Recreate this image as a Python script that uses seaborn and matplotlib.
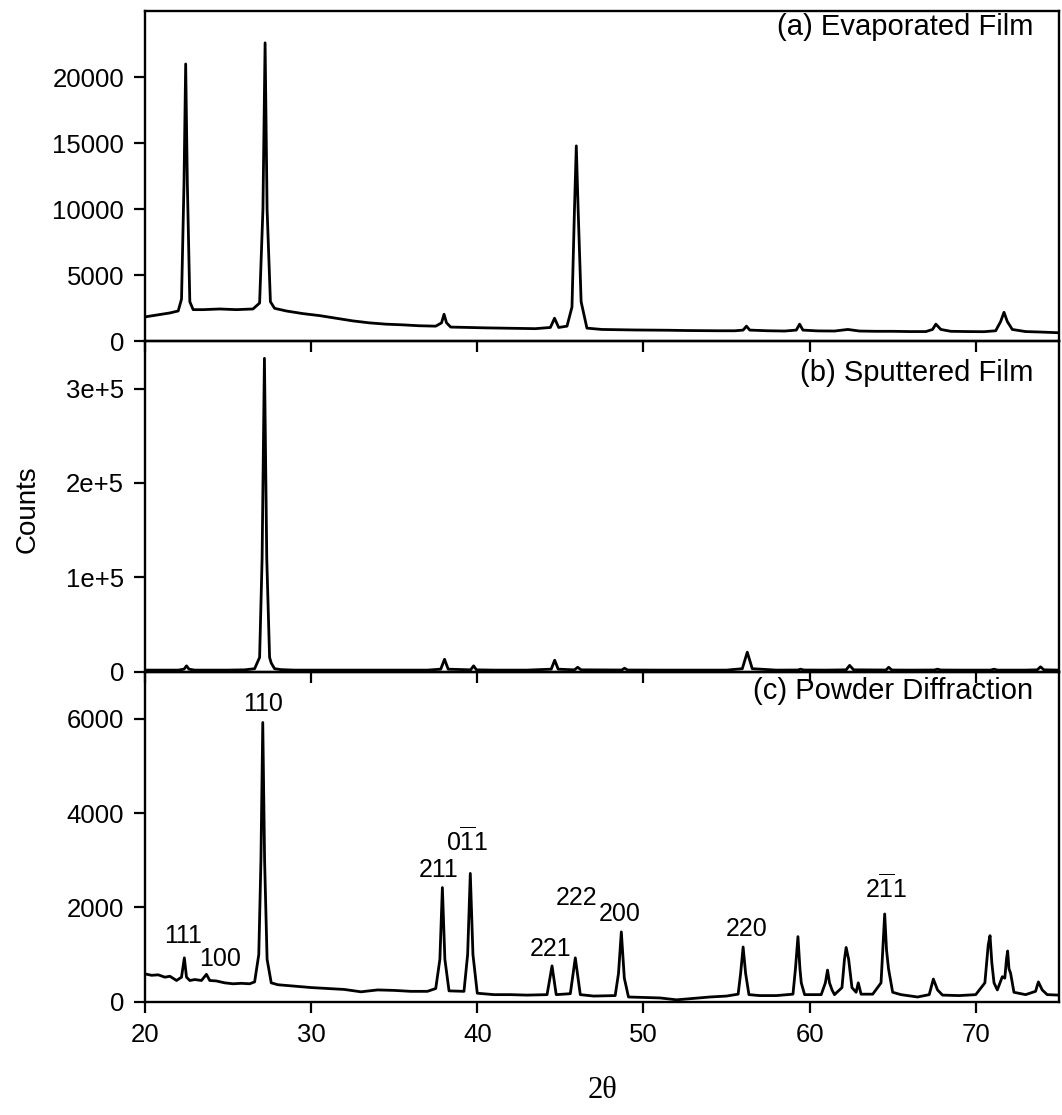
import matplotlib
matplotlib.use("Agg")
import matplotlib.pyplot as plt
import seaborn as sns
from matplotlib.ticker import FuncFormatter

# --- data (2theta in degrees, counts) ---
# (a) evaporated film
a_x = [20.0, 20.5, 21.0, 21.5, 22.0, 22.2, 22.35, 22.45, 22.55, 22.7, 22.9,
       23.5, 24.5, 25.5, 26.5, 26.9, 27.1, 27.23, 27.35, 27.55, 27.8, 28.5,
       29.5, 30.5, 31.5, 32.5, 33.5, 34.5, 35.5, 36.5, 37.5, 37.85, 38.0,
       38.15, 38.4, 39.5, 40.5, 41.5, 42.5, 43.5, 44.4, 44.65, 44.9, 45.4,
       45.7, 45.85, 45.96, 46.07, 46.25, 46.6, 47.5, 48.5, 49.5, 50.5, 51.5,
       52.5, 53.5, 54.5, 55.5, 56.0, 56.2, 56.4, 57.5, 58.5, 59.2, 59.4, 59.6,
       60.5, 61.5, 62.3, 63.0, 64.0, 65.0, 66.0, 67.0, 67.4, 67.6, 67.9, 68.5,
       69.5, 70.5, 71.2, 71.5, 71.7, 71.9, 72.2, 73.0, 74.0, 75.0]
a_y = [1850, 1950, 2050, 2150, 2300, 3200, 12000, 21000, 12000, 3000, 2400,
       2400, 2450, 2400, 2450, 2900, 10000, 22600, 10000, 3000, 2500, 2300,
       2100, 1950, 1750, 1550, 1400, 1300, 1250, 1180, 1150, 1400, 2050,
       1400, 1080, 1050, 1020, 1000, 980, 960, 1050, 1750, 1050, 1150,
       2600, 10000, 14800, 10000, 3000, 1000, 900, 880, 860, 850, 840,
       820, 810, 800, 800, 850, 1150, 850, 800, 780, 850, 1300, 850,
       790, 780, 900, 780, 760, 760, 740, 740, 900, 1300, 900, 760,
       740, 730, 800, 1500, 2200, 1500, 900, 740, 700, 650]

# (b) sputtered film
b_x = [20.0, 21.0, 22.0, 22.35, 22.5, 22.65, 23.0, 24.0, 25.0, 26.0, 26.6,
       26.9, 27.05, 27.19, 27.33, 27.5, 27.6, 27.8, 28.2, 29.0, 31.0, 33.0,
       35.0, 37.0, 37.8, 38.03, 38.25, 39.6, 39.78, 39.95, 41.0, 43.0, 44.45,
       44.66, 44.87, 45.85, 46.04, 46.25, 48.7, 48.86, 49.05, 51.0, 53.0,
       55.0, 55.95, 56.25, 56.55, 58.0, 59.3, 59.46, 59.65, 61.0, 62.2, 62.41,
       62.65, 64.6, 64.76, 64.95, 66.0, 67.5, 67.69, 67.9, 69.0, 70.9, 71.1,
       71.3, 73.0, 73.7, 73.9, 74.1, 75.0]
b_y = [1500, 1500, 1500, 2500, 6000, 2500, 1500, 1500, 1500, 1800, 3000,
       15000, 120000, 332000, 120000, 15000, 9000, 3000, 2000, 1500, 1500, 1500,
       1500, 1500, 2500, 13000, 2500, 1800, 6000, 1800, 1500, 1500, 2500,
       12000, 2500, 1800, 4500, 1800, 1600, 3500, 1600, 1500, 1500,
       1500, 3000, 20500, 3000, 1500, 1600, 2500, 1600, 1500, 1800, 6500,
       1800, 1600, 4500, 1600, 1500, 1600, 2500, 1600, 1500, 1500, 2500,
       1500, 1500, 1800, 5000, 1800, 1500]

# (c) powder diffraction
c_x = [20.0, 20.4, 20.8, 21.2, 21.5, 21.9, 22.2, 22.37, 22.5, 22.7, 23.0,
       23.4, 23.7, 23.9, 24.3, 24.8, 25.3, 25.8, 26.3, 26.6, 26.85, 26.98,
       27.09, 27.2, 27.35, 27.6, 28.0, 29.0, 30.0, 31.0, 32.0, 33.0, 34.0,
       35.0, 36.0, 37.0, 37.5, 37.75, 37.9, 38.05, 38.3, 39.2, 39.42, 39.58,
       39.74, 40.0, 41.0, 42.0, 43.0, 44.2, 44.5, 44.75, 45.6, 45.9, 46.2,
       47.0, 48.3, 48.5, 48.67, 48.85, 49.1, 50.0, 51.0, 52.0, 53.0, 54.0,
       55.0, 55.7, 55.85, 56.0, 56.15, 56.35, 57.0, 58.0, 59.0, 59.15, 59.3,
       59.42, 59.5, 59.7, 60.7, 60.95, 61.08, 61.2, 61.35, 61.5, 61.95, 62.1,
       62.2, 62.35, 62.55, 62.8, 62.93, 63.1, 63.8, 64.3, 64.45, 64.52, 64.63,
       64.75, 65.0, 65.5, 66.5, 67.2, 67.45, 67.7, 68.0, 69.0, 70.0, 70.55,
       70.75, 70.86, 70.97, 71.1, 71.3, 71.6, 71.75, 71.85, 71.92, 72.0, 72.1,
       72.3, 73.0, 73.6, 73.77, 74.0, 74.3, 75.0]
c_y = [590, 560, 570, 520, 540, 450, 520, 930, 520, 450, 470,
       450, 580, 450, 440, 400, 380, 390, 380, 420, 1000, 3000,
       5920, 3000, 900, 400, 360, 330, 300, 280, 260, 210, 250,
       240, 220, 220, 280, 900, 2420, 900, 230, 220, 1000, 2720,
       1000, 180, 150, 150, 140, 150, 760, 150, 170, 930, 150,
       120, 130, 600, 1480, 500, 100, 90, 80, 40, 70, 100,
       120, 160, 600, 1160, 600, 150, 130, 130, 160, 700, 1380,
       700, 400, 150, 150, 400, 670, 400, 250, 150, 300, 900,
       1150, 900, 300, 200, 400, 160, 160, 400, 1400, 1860, 1100,
       700, 200, 150, 100, 150, 480, 250, 140, 130, 150, 400,
       1200, 1400, 820, 400, 250, 530, 500, 900, 1075, 700, 600,
       200, 150, 220, 420, 250, 150, 140]

# reflection labels for panel (c): label, x, y
hkl_labels = ["111", "100", "110", "211", r"$\mathregular{0\overline{1}1}$",
              "221", "222", "200", "220", r"$\mathregular{2\overline{1}1}$"]
hkl_x = [22.3, 24.5, 27.1, 37.65, 39.4, 44.4, 46.0, 48.55, 56.2, 64.6]
hkl_y = [1400, 905, 6310, 2795, 3400, 1120, 2200, 1860, 1543, 2400]

panel_titles = ["(a) Evaporated Film", "(b) Sputtered Film", "(c) Powder Diffraction"]

# --- plotting ---
sns.set_theme(style="ticks")
plt.rcParams['font.family'] = ['Liberation Sans', 'DejaVu Sans']
plt.rcParams['mathtext.fontset'] = 'custom'
plt.rcParams['mathtext.rm'] = 'Liberation Sans'
plt.rcParams['text.color'] = 'black'

fig, axes = plt.subplots(3, 1, figsize=(10.62, 11.15), dpi=100, sharex=True,
                         gridspec_kw=dict(hspace=0))
fig.subplots_adjust(left=0.1365, right=0.997, top=0.990, bottom=0.1016)

series = [(a_x, a_y), (b_x, b_y), (c_x, c_y)]
ylims = [25000, 350000, 7000]
yticks = [[0, 5000, 10000, 15000, 20000],
          [0, 100000, 200000, 300000],
          [0, 2000, 4000, 6000]]
title_y = [0.952, 0.905, 0.94]

for ax, (xs, ys), ymax, yt, title, ty in zip(axes, series, ylims, yticks,
                                              panel_titles, title_y):
    sns.lineplot(x=xs, y=ys, ax=ax, color='black', linewidth=2.0,
                 estimator=None, sort=False)
    ax.set_xlim(20, 75)
    ax.set_ylim(0, ymax)
    ax.set_yticks(yt)
    ax.set_xticks([20, 30, 40, 50, 60, 70])
    ax.patch.set_alpha(0)
    for sp in ax.spines.values():
        sp.set_linewidth(1.7)
        sp.set_color('black')
    ax.tick_params(axis='both', direction='out', length=8, width=1.6,
                   labelsize=18.5, colors='black', pad=7)
    ax.set_ylabel('')
    ax.text(0.972, ty, title, transform=ax.transAxes, ha='right', va='center',
            fontsize=21, color='black')

axes[1].yaxis.set_major_formatter(
    FuncFormatter(lambda v, p: '0' if v == 0 else f'{int(round(v / 1e5))}e+5'))

for lab, x, y in zip(hkl_labels, hkl_x, hkl_y):
    axes[2].text(x, y, lab, ha='center', va='center', fontsize=18, color='black')

fig.text(0.026, 0.543, 'Counts', rotation=90, ha='center', va='center',
         fontsize=20, color='black')
fig.text(0.567, 0.022, '2θ', ha='center', va='center', fontsize=22,
         family=['Liberation Serif', 'DejaVu Serif'], color='black')

plt.savefig('out.png', dpi=100)
